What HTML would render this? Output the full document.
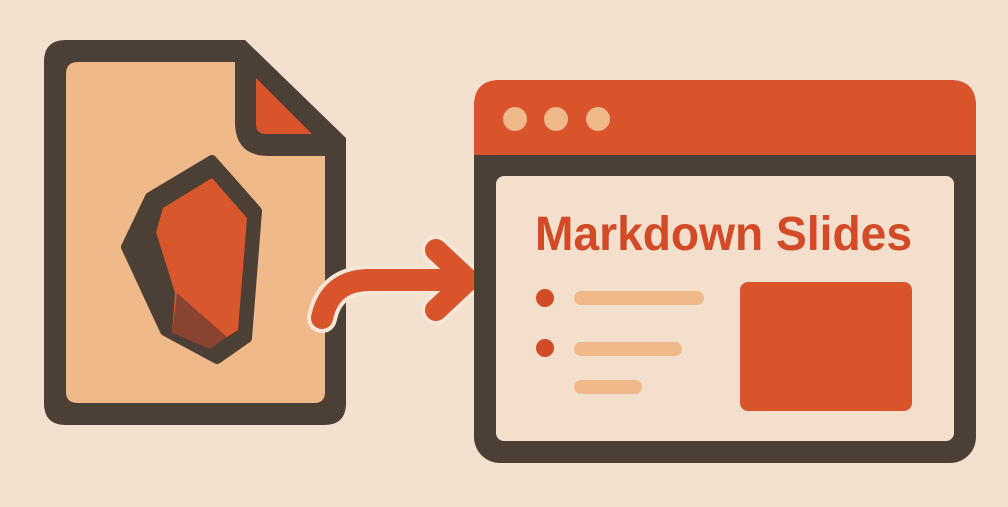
<!DOCTYPE html>
<html><head><meta charset="utf-8"><style>
html,body{margin:0;padding:0;background:#f4e0cf;}
svg{display:block}
</style></head><body>
<svg width="1008" height="507" viewBox="0 0 1008 507" xmlns="http://www.w3.org/2000/svg">
<rect width="1008" height="507" fill="#f4e0cf"/>
<path d="M66,40 H245 L346,138 V403 Q346,425 324,425 H66 Q44,425 44,403 V62 Q44,40 66,40 Z" fill="#4b3f36"/>
<path d="M78,62 H235 V122 Q235,156 269,156 H325 V392 Q325,403 314,403 H78 Q66,403 66,392 V74 Q66,62 78,62 Z" fill="#f0b98a"/>
<path d="M256,78 L312,134 H266 Q256,134 256,124 Z" fill="#d9532b"/>
<polygon points="212,160 257,211 247,338 217,359 165,331 126,247 150,197" fill="#4b3f36" stroke="#4b3f36" stroke-width="10" stroke-linejoin="round"/>
<polygon points="212,178 247,218 238,330 227,337 210,348 172,332 175,293 156,232 163,208" fill="#d9572d"/>
<polygon points="177,293 227,337 210,349 172,333" fill="#8a4330"/>
<g fill="none" stroke-linecap="round" stroke-linejoin="round">
<path d="M322,318 Q330,280 370,280 H468 M436,250 L468,280 L436,310" stroke="#f7e6d6" stroke-width="30"/>
<path d="M322,318 Q330,280 370,280 H468 M436,250 L468,280 L436,310" stroke="#d9532b" stroke-width="22"/>
</g>
<rect x="474" y="80" width="502" height="383" rx="26" fill="#4b3f36"/>
<path d="M500,80 H950 Q976,80 976,106 V155 H474 V106 Q474,80 500,80 Z" fill="#d9532b"/>
<rect x="496" y="176" width="458" height="265" rx="8" fill="#f4dfcc"/>
<circle cx="515" cy="119" r="12" fill="#f0b98a"/>
<circle cx="556" cy="119" r="12" fill="#f0b98a"/>
<circle cx="598" cy="119" r="12" fill="#f0b98a"/>
<text x="535" y="250" font-family="Liberation Sans, sans-serif" font-weight="bold" font-size="48" fill="#d24a26" textLength="377" lengthAdjust="spacingAndGlyphs">Markdown Slides</text>
<circle cx="545" cy="298" r="9" fill="#d24a26"/>
<circle cx="545" cy="348" r="9" fill="#d24a26"/>
<rect x="574" y="291" width="130" height="14" rx="7" fill="#f0b98a"/>
<rect x="574" y="342" width="108" height="14" rx="7" fill="#f0b98a"/>
<rect x="574" y="380" width="68" height="14" rx="7" fill="#f0b98a"/>
<rect x="740" y="282" width="172" height="129" rx="8" fill="#d9532b"/>
</svg>
</body></html>
